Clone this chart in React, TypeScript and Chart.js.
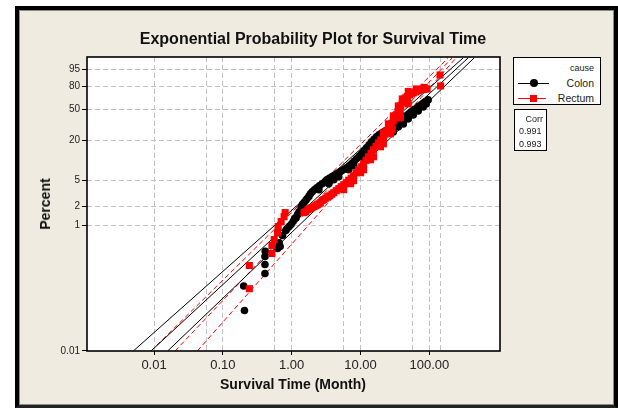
import React, { useEffect, useRef } from "react";
import { Chart, registerables } from "chart.js";

Chart.register(...registerables);

// ---- data (survival time in months, plotting position in percent) ----
const colonTime = [
  0.206, 0.201, 0.409, 0.409, 0.409, 0.413, 0.622, 0.658, 0.735, 0.822,
  0.916, 1.047, 1.157, 1.279, 1.427, 1.597, 1.782, 1.99, 2.324, 2.773,
  3.243, 3.828, 4.519, 5.336, 6.3, 7.44, 8.79, 10.37, 12.25, 14.46,
  17.07, 20.15, 23.8, 28.1, 33.2, 39.2, 46.2, 54.6, 64.5, 76.2,
  86.9, 96.1, 2.485, 4.093, 6.73, 11.09, 30.0, 41.9, 58.4, 81.4,
  0.68, 0.858, 0.98, 1.101, 1.216, 1.367, 1.51, 1.668, 1.874, 2.14,
  2.527, 3.034, 3.523, 4.159, 4.912, 5.8, 6.847, 8.083, 9.546, 11.27,
  13.31, 15.72, 18.55, 21.9, 25.86, 30.54, 36.06, 42.57, 50.27, 59.35,
  70.08, 81.38, 3.465, 4.831, 7.95, 13.09, 21.54, 35.46, 49.44, 68.93, 89.9,
];
const colonPct = [
  0.044, 0.108, 0.171, 0.237, 0.318, 0.386, 0.426, 0.525, 0.685, 0.82,
  0.95, 1.14, 1.315, 1.634, 2.11, 2.44, 2.84, 3.37, 3.89, 4.49,
  5.17, 5.76, 6.41, 7.11, 7.91, 9.09, 10.83, 12.84, 15.72, 19.2,
  22.6, 25.2, 27.3, 29.9, 33.7, 37.9, 42.4, 47.2, 51.5, 56.1,
  60.1, 62.8, 3.62, 5.17, 7.37, 11.2, 26.4, 33.7, 43.5, 53.5,
  0.458, 0.882, 1.021, 1.269, 1.467, 1.892, 2.266, 2.618, 3.136, 3.619,
  4.177, 4.82, 5.458, 6.071, 6.752, 7.503, 8.481, 9.923, 11.79, 14.21,
  17.39, 20.82, 24.06, 26.43, 28.58, 31.78, 35.77, 40.1, 44.73, 49.66,
  54.16, 58.12, 4.487, 5.757, 8.481, 13.74, 21.86, 30.83, 38.98, 48.4, 57.45,
];
const rectumTime = [
  0.2427, 0.2427, 0.5164, 0.5164, 0.557, 0.622, 0.637, 0.703, 0.776, 0.804,
  1.51, 1.725, 1.968, 2.249, 2.485, 2.773, 3.133, 3.581, 4.093, 4.831,
  5.702, 6.73, 7.94, 9.39, 11.09, 13.09, 15.45, 18.24, 21.53, 23.8,
  27.2, 30.0, 33.2, 36.6, 40.5, 44.7, 51.2, 58.4, 68.9, 81.4,
  92.9, 143, 146, 5.7, 7.94, 11.09, 15.45, 21.53, 29.0, 37.9, 47.9,
  1.613, 1.843, 2.105, 2.364, 2.612, 2.935, 3.352, 3.828, 4.446, 5.25,
  6.198, 7.316, 8.64, 10.2, 12.04, 14.22, 16.8, 19.83, 22.65, 25.44,
  28.58, 31.57, 34.89, 38.54, 42.57, 47.83, 54.62, 63.43, 74.9, 86.99,
  21.54, 25.44, 30.04, 35.46, 40.51, 49.44, 64.49, 84.14,
  7.195, 10.03, 13.99, 19.5, 27.19, 37.9, 49.44,
];
const rectumPct = [
  0.098, 0.229, 0.355, 0.475, 0.591, 0.754, 0.95, 1.14, 1.364, 1.579,
  1.579, 1.758, 1.89, 2.035, 2.18, 2.44, 2.67, 2.91, 3.25, 3.76,
  4.33, 5.08, 5.97, 7.37, 9.09, 11.57, 14.72, 18.58, 22.6, 27.3,
  31.8, 36.8, 43.5, 50.9, 58.8, 65.5, 69.5, 72.1, 74.7, 76.6,
  77.2, 91.5, 80.8, 3.62, 5.0, 7.37, 11.57, 17.97, 28.1, 43.5, 62.8,
  1.636, 1.824, 1.961, 2.108, 2.266, 2.526, 2.815, 3.08, 3.493, 4.031,
  4.65, 5.458, 6.634, 8.188, 10.26, 13.06, 16.53, 20.48, 24.84, 29.46,
  34.23, 40.1, 47.16, 54.81, 62.14, 67.5, 70.83, 73.42, 75.97, 77.2,
  25.63, 33.73, 42.37, 54.81, 64.15, 74.07, 77.2, 79.03,
  4.487, 6.634, 10.45, 16.26, 24.84, 40.1, 57.45,
];

// fitted lines and confidence bounds: time at fitPct[0] and fitPct[1]
const fitPct = [0.01, 99];
const colonBoundA = [0.005, 310];
const colonFit = [0.00904, 366];
const colonBoundB = [0.0158, 448];
const rectumBoundA = [0.00904, 188];
const rectumFit = [0.0202, 214];
const rectumBoundB = [0.0426, 245];

const yTickPct = [0.01, 1, 2, 5, 20, 50, 80, 95];
const yTickLabels = ["0.01", "1", "2", "5", "20", "50", "80", "95"];
const xTickValues = [0.01, 0.1, 1, 10, 100];
const xTickLabels = ["0.01", "0.10", "1.00", "10.00", "100.00"];
const xExtraGrid = [0.057, 0.57, 5.7, 57, 147];
const corrValues = ["0.991", "0.993"];
const seriesNames = ["Colon", "Rectum"];

const FONT = "'Liberation Sans', Arial, sans-serif";
const tf = (p: number) => Math.log10(-Math.log(1 - p / 100));

const lineData = (arr: number[]) => [
  { x: arr[0], y: tf(fitPct[0]) },
  { x: arr[1], y: tf(fitPct[1]) },
];

export default function App() {
  const ref = useRef<HTMLCanvasElement | null>(null);

  useEffect(() => {
    if (!ref.current) return;
    const plotFrame = {
      id: "plotFrame",
      beforeDraw(chart: any) {
        const { ctx, chartArea: a } = chart;
        ctx.save();
        ctx.fillStyle = "#ffffff";
        ctx.fillRect(a.left, a.top, a.right - a.left, a.bottom - a.top);
        ctx.restore();
      },
      afterDraw(chart: any) {
        const { ctx, chartArea: a } = chart;
        ctx.save();
        ctx.strokeStyle = "#000";
        ctx.lineWidth = 1.6;
        ctx.strokeRect(a.left, a.top, a.right - a.left, a.bottom - a.top);
        ctx.restore();
      },
    };

    const lineDs = (label: string, arr: number[], color: string, dash: number[]) => ({
      label,
      data: lineData(arr),
      showLine: true,
      pointRadius: 0,
      borderColor: color,
      borderWidth: 1,
      borderDash: dash,
      fill: false,
      order: 2,
    });

    const isLabeled = (v: number) =>
      xTickValues.findIndex((t) => Math.abs(Math.log10(t) - Math.log10(v)) < 1e-6);

    const chart = new Chart(ref.current, {
      type: "scatter",
      data: {
        datasets: [
          {
            label: seriesNames[1],
            data: rectumTime.map((x, i) => ({ x, y: tf(rectumPct[i]) })),
            pointStyle: "rect",
            pointRadius: 5,
            backgroundColor: "#ff0000",
            borderColor: "#ff0000",
            borderWidth: 0,
            order: 0,
          } as any,
          {
            label: seriesNames[0],
            data: colonTime.map((x, i) => ({ x, y: tf(colonPct[i]) })),
            pointStyle: "circle",
            pointRadius: 3.8,
            backgroundColor: "#000000",
            borderColor: "#000000",
            borderWidth: 0,
            order: 1,
          },
          lineDs("cA", colonBoundA, "#000", []),
          lineDs("cF", colonFit, "#000", []),
          lineDs("cB", colonBoundB, "#000", []),
          lineDs("rA", rectumBoundA, "#ff0000", [5, 3]),
          lineDs("rF", rectumFit, "#ff0000", [5, 3]),
          lineDs("rB", rectumBoundB, "#ff0000", [5, 3]),
        ],
      },
      options: {
        animation: false,
        responsive: false,
        events: [],
        layout: { padding: { left: 0, top: 57, right: 118, bottom: 0 } },
        plugins: {
          legend: { display: false },
          tooltip: { enabled: false },
          title: { display: false },
        },
        scales: {
          x: {
            type: "logarithmic",
            min: 0.001062,
            max: 1064,
            afterBuildTicks: (s: any) => {
              s.ticks = [...xTickValues, ...xExtraGrid]
                .sort((a, b) => a - b)
                .map((v) => ({ value: v }));
            },
            afterFit: (s: any) => {
              s.height = 57;
            },
            ticks: {
              autoSkip: false,
              maxRotation: 0,
              minRotation: 0,
              padding: 3,
              color: "#222",
              font: { family: FONT, size: 13 },
              callback: (v: any) => {
                const i = isLabeled(Number(v));
                return i >= 0 ? xTickLabels[i] : "";
              },
            },
            grid: {
              color: "#c2c2c2",
              lineWidth: 1,
              tickLength: 4,
              tickColor: (ctx: any) =>
                ctx.tick && isLabeled(ctx.tick.value) >= 0 ? "#000" : "rgba(0,0,0,0)",
            },
            border: { display: false, dash: [5, 3] },
          },
          y: {
            type: "linear",
            min: -4,
            max: 0.678,
            afterBuildTicks: (s: any) => {
              s.ticks = yTickPct.map((p) => ({ value: tf(p) }));
            },
            afterFit: (s: any) => {
              s.width = 87;
            },
            ticks: {
              autoSkip: false,
              padding: 2,
              color: "#222",
              font: { family: FONT, size: 10 },
              callback: (_v: any, i: number) => yTickLabels[i],
            },
            grid: {
              color: (ctx: any) => (ctx.index === 0 ? "rgba(0,0,0,0)" : "#c2c2c2"),
              lineWidth: 1,
              tickLength: 5,
              tickColor: "#000",
            },
            border: { display: false, dash: [5, 3] },
          },
        },
      } as any,
      plugins: [plotFrame],
    });
    return () => chart.destroy();
  }, []);

  const abs = (s: React.CSSProperties): React.CSSProperties => ({
    position: "absolute",
    whiteSpace: "nowrap",
    fontFamily: FONT,
    ...s,
  });

  return (
    <div
      style={{
        position: "fixed",
        left: 0,
        top: 0,
        width: 618,
        height: 408,
        background: "#ffffff",
        overflow: "hidden",
      }}
    >
      <div
        style={{
          position: "absolute",
          left: 15,
          top: 6,
          width: 603,
          height: 402,
          boxSizing: "border-box",
          borderLeft: "4px solid #000",
          borderTop: "4px solid #000",
          borderRight: "4px solid #000",
          borderBottom: "3px solid #222",
        }}
      >
        <div
          style={{
            width: "100%",
            height: "100%",
            boxSizing: "border-box",
            border: "1px solid #8c8a85",
            background: "#efebe1",
          }}
        />
      </div>
      <canvas
        ref={ref}
        width={618}
        height={408}
        style={{ position: "absolute", left: 0, top: 0, width: 618, height: 408 }}
      />
      <div
        style={abs({
          left: 0,
          width: 626,
          top: 30,
          lineHeight: "18px",
          textAlign: "center",
          fontSize: 16,
          fontWeight: "bold",
          color: "#111",
        })}
      >
        Exponential Probability Plot for Survival Time
      </div>
      <div
        style={abs({
          left: 45,
          top: 204,
          transform: "translate(-50%, -50%) rotate(-90deg)",
          fontSize: 14,
          fontWeight: "bold",
          color: "#111",
          lineHeight: "16px",
        })}
      >
        Percent
      </div>
      <div
        style={abs({
          left: 293,
          top: 384,
          transform: "translate(-50%, -50%)",
          fontSize: 14,
          fontWeight: "bold",
          color: "#111",
          lineHeight: "16px",
        })}
      >
        Survival Time (Month)
      </div>

      {/* legend */}
      <div
        style={{
          position: "absolute",
          left: 513,
          top: 57,
          width: 88,
          height: 48,
          boxSizing: "border-box",
          border: "1px solid #000",
          background: "#ffffff",
        }}
      >
        <div style={abs({ right: 6, top: 4, fontSize: 9, lineHeight: "12px", color: "#222" })}>
          cause
        </div>
        <div style={abs({ left: 4, top: 25, width: 31, height: 1, background: "#000" })} />
        <div
          style={abs({
            left: 16,
            top: 21,
            width: 8,
            height: 8,
            borderRadius: 4,
            background: "#000",
          })}
        />
        <div style={abs({ right: 6, top: 19, fontSize: 10.5, lineHeight: "13px", color: "#222" })}>
          {seriesNames[0]}
        </div>
        <div style={abs({ left: 4, top: 40, width: 28, height: 1, background: "#ff0000" })} />
        <div
          style={abs({ left: 16, top: 37, width: 7, height: 7, background: "#ff0000" })}
        />
        <div style={abs({ right: 6, top: 34, fontSize: 10.5, lineHeight: "13px", color: "#222" })}>
          {seriesNames[1]}
        </div>
      </div>

      {/* correlation box */}
      <div
        style={{
          position: "absolute",
          left: 514,
          top: 109,
          width: 33,
          height: 42,
          boxSizing: "border-box",
          border: "1px solid #000",
          background: "#ffffff",
        }}
      >
        <div style={abs({ right: 3, top: 4, fontSize: 9, lineHeight: "11px", color: "#222" })}>
          Corr
        </div>
        <div style={abs({ left: 4, top: 16, fontSize: 9, lineHeight: "11px", color: "#222" })}>
          {corrValues[0]}
        </div>
        <div style={abs({ left: 4, top: 29, fontSize: 9, lineHeight: "11px", color: "#222" })}>
          {corrValues[1]}
        </div>
      </div>
    </div>
  );
}
